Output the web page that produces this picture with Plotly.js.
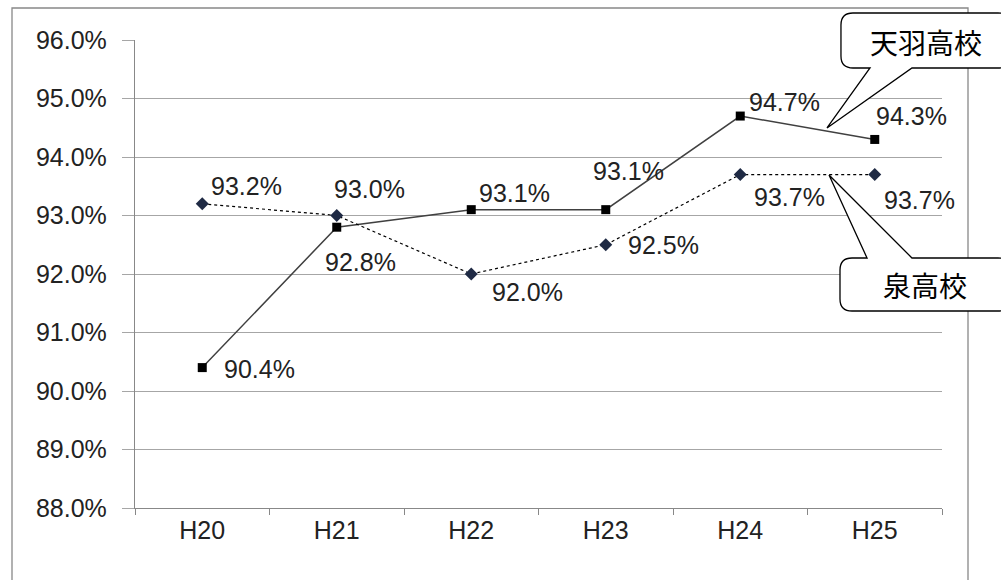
<!DOCTYPE html>
<html><head><meta charset="utf-8">
<script src="https://cdn.plot.ly/plotly-3.0.1.min.js"></script>
<style>body{margin:0;background:#fff}#c{width:1001px;height:580px}</style>
</head><body><div id="c"></div>
<script>
const years = ["H20","H21","H22","H23","H24","H25"];
const amaha = [90.4, 92.8, 93.1, 93.1, 94.7, 94.3];
const izumi = [93.2, 93.0, 92.0, 92.5, 93.7, 93.7];
const yTicks = [88,89,90,91,92,93,94,95,96];
// label offsets (px) from each point
const amahaShift = [[57,-1],[24,-35],[43,17],[23,39],[44,14],[37,23]];
const izumiShift = [[44,18],[33,27],[56,-18],[58,0],[49,-22],[45,-25]];

const L = 135, R = 942, T = 40, B = 508;
const px = x => (x - L) / (R - L);
const py = y => (B - y) / (B - T);
const P = (x, y) => px(x).toFixed(4) + "," + py(y).toFixed(4);

function callout(x0, y0, x1, y1, tail, tip){
  const r = 12;
  let d = "M" + P(x0 + r, y0);
  if(tail.edge === "top"){
    d += " L" + P(tail.a, y0) + " L" + P(tip[0], tip[1]) + " L" + P(tail.b, y0);
  }
  d += " L" + P(x1 - r, y0) + " Q" + P(x1, y0) + " " + P(x1, y0 + r);
  d += " L" + P(x1, y1 - r) + " Q" + P(x1, y1) + " " + P(x1 - r, y1);
  if(tail.edge === "bottom"){
    d += " L" + P(tail.b, y1) + " L" + P(tip[0], tip[1]) + " L" + P(tail.a, y1);
  }
  d += " L" + P(x0 + r, y1) + " Q" + P(x0, y1) + " " + P(x0, y1 - r);
  d += " L" + P(x0, y0 + r) + " Q" + P(x0, y0) + " " + P(x0 + r, y0) + " Z";
  return {type:"path", xref:"paper", yref:"paper", path:d,
    fillcolor:"#fff", line:{color:"#000", width:1.3}, layer:"above"};
}

const FONT = "Liberation Sans, Arial, sans-serif";

const traces = [
  {x: years, y: amaha, type:"scatter", mode:"lines+markers",
   line:{color:"#404040", width:1.5},
   marker:{symbol:"square", size:9, color:"#000"}, cliponaxis:false},
  {x: years, y: izumi, type:"scatter", mode:"lines+markers",
   line:{color:"#000", width:1.2, dash:"3px,3px"},
   marker:{symbol:"diamond", size:10, color:"#1f2a44"}, cliponaxis:false}
];

const annotations = [];
function addLabels(vals, shifts){
  vals.forEach((v, i) => annotations.push({
    x: years[i], y: v, text: v.toFixed(1) + "%", showarrow:false,
    xanchor:"center", yanchor:"middle",
    xshift: shifts[i][0], yshift: shifts[i][1],
    font:{family:FONT, size:25, color:"#222"}
  }));
}
addLabels(amaha, amahaShift);
addLabels(izumi, izumiShift);
annotations.push({xref:"paper", yref:"paper", x:px(926), y:py(42), text:"天羽高校",
  xanchor:"center", yanchor:"middle",
  showarrow:false, font:{family:"Noto Sans CJK JP", size:28, color:"#000"}});
annotations.push({xref:"paper", yref:"paper", x:px(925), y:py(285), text:"泉高校",
  xanchor:"center", yanchor:"middle",
  showarrow:false, font:{family:"Noto Sans CJK JP", size:28, color:"#000"}});

const shapes = [
  {type:"rect", xref:"paper", yref:"paper", x0:px(12), y0:py(8), x1:px(968), y1:py(590),
   line:{color:"#888", width:1.3}, fillcolor:"rgba(0,0,0,0)", layer:"below"},
  callout(841, 13, 1010, 68, {edge:"bottom", a:870, b:912}, [827, 128]),
  callout(840, 258, 1010, 311, {edge:"top", a:867, b:912}, [829, 175])
];

Plotly.newPlot("c", traces, {
  width:1001, height:580,
  margin:{l:L, r:1001-R, t:T, b:580-B},
  showlegend:false,
  paper_bgcolor:"#fff", plot_bgcolor:"#fff",
  font:{family:FONT, size:25, color:"#222"},
  xaxis:{type:"category", range:[-0.5, 5.5], showgrid:false, showline:true,
    linecolor:"#888", linewidth:1.3, ticks:"outside", tickson:"boundaries",
    ticklen:6, tickcolor:"#888", tickfont:{size:25}},
  yaxis:{range:[88, 96], tickvals:yTicks, ticktext:yTicks.map(v => v.toFixed(1) + "%"),
    showgrid:true, gridcolor:"#a6a6a6", gridwidth:1.3, showline:true, linecolor:"#888",
    linewidth:1.3, ticks:"outside", ticklen:12, tickcolor:"#a6a6a6", zeroline:false,
    ticklabelstandoff:10, tickfont:{size:25}},
  annotations, shapes
}, {displayModeBar:false});
</script></body></html>
